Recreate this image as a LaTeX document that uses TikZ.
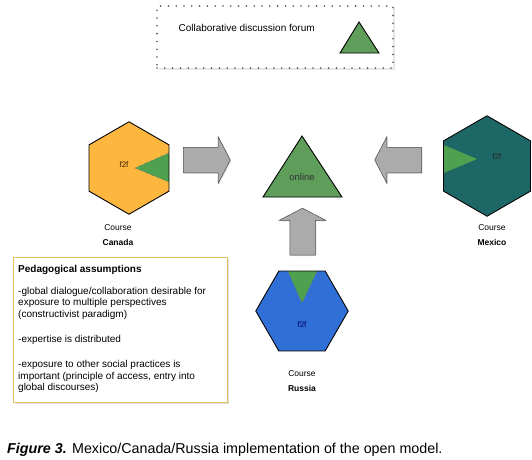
\documentclass[tikz,border=0pt]{standalone}
\usepackage{fontspec}
\setmainfont{Liberation Sans}
\usetikzlibrary{shapes.geometric,shapes.arrows,shadows}

\definecolor{canadaorange}{HTML}{FDB73E}
\definecolor{mexicoteal}{HTML}{1D6866}
\definecolor{russiablue}{HTML}{2F6FD6}
\definecolor{slicegreen}{HTML}{4FA150}
\definecolor{trigreen}{HTML}{5F9E5A}
\definecolor{arrowgray}{HTML}{ABABAB}
\definecolor{legendborder}{HTML}{E9BE5C}
\definecolor{forumdots}{HTML}{3C5A4A}

\tikzset{
    hexa/.style={regular polygon, regular polygon sides=6, inner sep=0pt},
    hexborder/.style={draw=black, line width=0.9pt, line join=miter},
    sliceedge/.style={draw=black!55, dashed, line width=0.3pt},
    bigarrow/.style={single arrow, draw=black!70, fill=arrowgray, line width=0.5pt,
        inner xsep=0pt, inner ysep=12.5pt, minimum height=47pt,
        single arrow head extend=10.5pt, single arrow tip angle=125,
        drop shadow={opacity=0.25, shadow xshift=1pt, shadow yshift=-1pt}},
    tri/.style={fill=trigreen, draw=black, line width=0.9pt, line join=miter},
    course/.style={align=center, font=\fontsize{8.5}{15}\selectfont},
    f2f/.style={font=\fontsize{8}{9}\selectfont, text=black!80}
}

\begin{document}
\begin{tikzpicture}[x=1pt,y=-1pt]
    \useasboundingbox (0,0) rectangle (532,459);

    % forum legend
    \node[draw=forumdots, line width=1.8pt, line cap=round, dash pattern=on 0pt off 7.8pt,
          minimum width=236pt, minimum height=62pt, fill=white,
          drop shadow={opacity=0.2, shadow xshift=1.5pt, shadow yshift=-1.5pt}] (forum) at (275,37) {};
    \node[anchor=west, font=\fontsize{10}{12}\selectfont] (forumtext) at (175,28) {Collaborative discussion forum};
    \draw[tri] (359,22) -- (379,53) -- (340,53) -- cycle;

    % online
    \draw[tri] (302,136) -- (342,197) -- (263,197) -- cycle;
    \node[font=\fontsize{9.5}{11}\selectfont, text=black!80] (online) at (302,177) {online};

    % Canada
    \node[hexa, fill=canadaorange, minimum size=92pt, shape border rotate=30] (canada) at (129,168) {};
    \fill[slicegreen] (135,168) -- (168.8,153) -- (168.8,182) -- cycle;
    \draw[sliceedge] (168.8,153) -- (135,168) -- (168.8,182);
    \draw[hexborder] (canada.corner 1) -- (canada.corner 2) -- (canada.corner 3) -- (canada.corner 4)
        -- (canada.corner 5) -- (canada.corner 6) -- cycle;
    \node[f2f, text=black!75!orange] (canadaf2f) at (124,165) {f2f};
    \node[course] (canadalabel) at (118,235) {Course\\\textbf{Canada}};

    % Mexico
    \node[hexa, fill=mexicoteal, minimum size=100pt, shape border rotate=30] (mexico) at (487,166) {};
    \fill[slicegreen] (477,159) -- (443.7,145) -- (443.7,173) -- cycle;
    \draw[hexborder] (mexico.corner 1) -- (mexico.corner 2) -- (mexico.corner 3) -- (mexico.corner 4)
        -- (mexico.corner 5) -- (mexico.corner 6) -- cycle;
    \node[f2f, text=black!85] (mexicof2f) at (497,157) {f2f};
    \node[course] (mexicolabel) at (492,235) {Course\\\textbf{Mexico}};

    % Russia
    \node[hexa, fill=russiablue, minimum size=92pt] (russia) at (302,311) {};
    \fill[slicegreen] (302,303) -- (288,271.2) -- (317,271.2) -- cycle;
    \draw[sliceedge] (288,271.2) -- (302,303) -- (317,271.2);
    \draw[hexborder] (russia.corner 1) -- (russia.corner 2) -- (russia.corner 3) -- (russia.corner 4)
        -- (russia.corner 5) -- (russia.corner 6) -- cycle;
    \node[f2f, text=black!60!blue] (russiaf2f) at (302,325) {f2f};
    \node[course] (russialabel) at (302,381) {Course\\\textbf{Russia}};

    % arrows to the forum
    \node[bigarrow] (canadaarrow) at (203.5,160) {};
    \node[bigarrow, shape border rotate=180] (mexicoarrow) at (401.5,160) {};
    \node[bigarrow, shape border rotate=90, inner xsep=12.5pt, inner ysep=0pt] (russiaarrow) at (302.5,235) {};

    % assumptions
    \node[draw=legendborder, line width=1pt, minimum width=214pt, minimum height=145pt, fill=white,
          drop shadow={opacity=0.25, shadow xshift=1.5pt, shadow yshift=-1.5pt}] (assumbox) at (120,329.5) {};
    \node[anchor=north west, align=left, inner sep=0pt, font=\fontsize{10}{11.3}\selectfont] (assumtext) at (18,265)
        {\textbf{Pedagogical assumptions}\\[10.7pt]
         -global dialogue/collaboration desirable for\\
         exposure to multiple perspectives\\
         (constructivist paradigm)\\[14.5pt]
         -expertise is distributed\\[13.7pt]
         -exposure to other social practices is\\
         important (principle of access, entry into\\
         global discourses)};

    % caption
    \node[anchor=west, inner sep=0pt, font=\fontsize{14.3}{16}\selectfont] (caption) at (7,450)
        {\textbf{\textit{Figure 3.}} Mexico/Canada/Russia implementation of the open model.};
\end{tikzpicture}
\end{document}
